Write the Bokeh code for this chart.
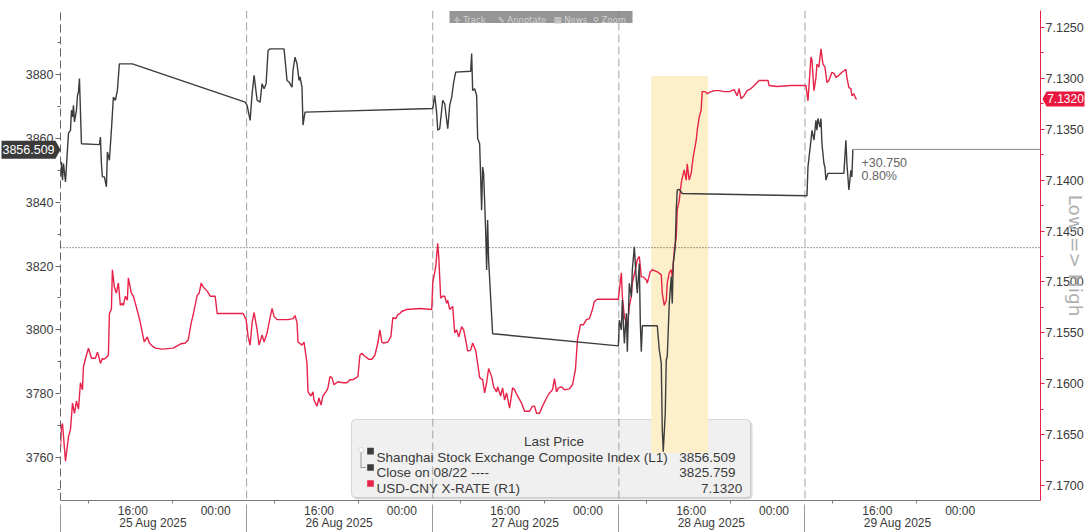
from bokeh.plotting import figure
from bokeh.layouts import column
from bokeh.models import (Range1d, LinearAxis, FixedTicker, CustomJSTickFormatter,
                          PrintfTickFormatter, Span, Label, BoxAnnotation, PolyAnnotation)
from bokeh.embed import file_html
from bokeh.resources import INLINE

# ---------------- data ----------------
# x = trading-session hours since 25 Aug 2025 session open (each day's session = 18.65 h)
SESSION = 18.65
DAY_LABELS = ["25 Aug 2025", "26 Aug 2025", "27 Aug 2025", "28 Aug 2025", "29 Aug 2025"]
TIME_LABEL_OFFSETS = {"16:00": 7.25, "00:00": 15.55}
DATE_LABEL_OFFSET = 9.3
MINOR_OFFSETS = [2.8, 11.2]
X_MAX = 98.2

LEFT_RANGE = (3746.6, 3900.0)
RIGHT_RANGE = (7.17147, 7.12333)          # inverted axis (Low => High)
LEFT_TICKS = [3760, 3780, 3800, 3820, 3840, 3860, 3880]
LEFT_MINOR = [3750, 3770, 3790, 3810, 3830, 3850, 3870, 3890]
RIGHT_TICKS = [7.1250, 7.1300, 7.1350, 7.1400, 7.1450, 7.1500, 7.1550, 7.1600, 7.1650, 7.1700]
RIGHT_MINOR = [7.1275, 7.1325, 7.1375, 7.1425, 7.1475, 7.1525, 7.1575, 7.1625, 7.1675]

SHCOMP_LAST = 3856.509
CLOSE_0822 = 3825.759
USDCNY_LAST = 7.1320
CHANGE_TXT = "+30.750"
CHANGE_PCT = "0.80%"

# Shanghai Stock Exchange Composite Index (left axis)
SHCOMP = [
    (0.0, 3847.9), (0.1, 3852.6), (0.2, 3846.9), (0.3, 3852.1), (0.5, 3846.3), (0.8, 3861.6),
    (1.0, 3862.5), (1.1, 3868.8), (1.2, 3866.7), (1.3, 3870.3), (1.4, 3865.1), (1.6, 3868.8),
    (1.7, 3873.4), (1.8, 3874.5), (1.9, 3878.7), (2.1, 3858.3), (3.9, 3858.0), (4.0, 3860.4),
    (4.1, 3852.1), (4.2, 3847.9), (4.4, 3847.9), (4.6, 3844.8), (4.7, 3855.7), (4.9, 3853.1),
    (5.1, 3862.5), (5.3, 3872.9), (5.5, 3871.9), (5.7, 3875.0), (5.9, 3883.3), (7.2, 3883.3),
    (18.5, 3871.3), (18.7, 3870.3), (19.0, 3865.6), (19.2, 3874.0), (19.4, 3879.7), (19.7, 3871.9),
    (20.0, 3871.3), (20.2, 3877.1), (20.4, 3875.5), (20.6, 3877.1), (20.8, 3887.5), (21.0, 3888.0),
    (22.4, 3888.0), (22.7, 3878.1), (22.9, 3877.6), (23.2, 3876.0), (23.3, 3881.3), (23.5, 3885.4),
    (23.7, 3883.3), (23.9, 3878.1), (24.0, 3879.2), (24.2, 3876.0), (24.3, 3864.1), (24.5, 3868.2),
    (37.3, 3869.3), (37.5, 3873.4), (37.7, 3867.7), (37.8, 3862.5), (38.0, 3863.0), (38.3, 3871.9),
    (38.5, 3870.8), (38.8, 3863.0), (39.0, 3870.3), (39.2, 3872.9), (39.4, 3877.6), (39.6, 3880.7),
    (41.1, 3881.0), (41.2, 3886.5), (41.3, 3875.0), (41.5, 3875.5), (41.7, 3873.4), (41.8, 3859.9),
    (42.0, 3858.3), (42.2, 3837.5), (42.3, 3851.0), (42.4, 3849.0), (42.6, 3831.3), (42.7, 3818.8),
    (42.8, 3834.4), (42.9, 3821.9), (43.3, 3798.8), (44.7, 3798.4),
    (55.9, 3795.0), (56.0, 3803.1), (56.2, 3800.0), (56.3, 3809.4), (56.5, 3795.8), (56.7, 3805.2),
    (56.8, 3793.2), (57.0, 3814.6), (57.2, 3810.4), (57.3, 3818.8), (57.5, 3826.0), (57.7, 3815.6),
    (57.8, 3811.5), (58.0, 3820.8), (58.1, 3802.1), (58.2, 3793.2), (58.3, 3801.3), (59.8, 3801.3),
    (60.0, 3793.8), (60.2, 3789.6), (60.3, 3768.8), (60.4, 3761.9), (60.6, 3774.0), (60.7, 3790.6),
    (60.8, 3791.7), (61.0, 3808.3), (61.2, 3816.7), (61.3, 3808.3), (61.4, 3820.8), (61.6, 3826.0),
    (61.7, 3837.5), (61.8, 3843.8), (62.0, 3844.0), (62.3, 3842.7),
    (74.8, 3842.0), (74.9, 3851.0), (75.2, 3859.4), (75.3, 3862.5), (75.5, 3859.4), (75.7, 3865.6),
    (75.8, 3862.5), (75.9, 3866.2), (76.1, 3863.5), (76.2, 3866.2), (76.3, 3858.3), (76.5, 3852.1),
    (76.6, 3851.0), (76.7, 3846.9), (76.9, 3849.0), (78.5, 3849.0), (78.7, 3859.4), (78.8, 3852.1),
    (79.0, 3843.8), (79.2, 3850.0), (79.3, 3847.9), (79.4, 3856.509),
]

# USD-CNY X-RATE (right axis, inverted)
USDCNY = [
    (0.0, 7.1662), (0.1, 7.1642), (0.2, 7.1639), (0.5, 7.1676), (0.8, 7.1652), (1.0, 7.1645),
    (1.2, 7.1619), (1.4, 7.1629), (1.6, 7.1617), (1.8, 7.1625), (2.0, 7.1599), (2.2, 7.1606),
    (2.3, 7.1583), (2.6, 7.1572), (2.8, 7.1565), (3.1, 7.1575), (3.5, 7.1575), (3.7, 7.1569),
    (3.8, 7.1572), (4.0, 7.1580), (4.2, 7.1575), (4.3, 7.1576), (4.5, 7.1575), (4.8, 7.1572),
    (4.9, 7.1531), (5.1, 7.1527), (5.2, 7.1488), (5.4, 7.1505), (5.6, 7.1511), (5.8, 7.1501),
    (6.0, 7.1523), (6.2, 7.1521), (6.3, 7.1523), (6.5, 7.1514), (6.7, 7.1518), (6.8, 7.1496),
    (7.1, 7.1511), (7.3, 7.1514), (7.5, 7.1521), (7.8, 7.1532), (8.0, 7.1540), (8.2, 7.1550),
    (8.4, 7.1559), (8.7, 7.1554), (8.9, 7.1560), (9.2, 7.1563), (9.5, 7.1565), (10.2, 7.1566),
    (11.3, 7.1565), (12.0, 7.1561), (12.5, 7.1560), (12.8, 7.1557), (13.1, 7.1540), (13.3, 7.1532),
    (13.7, 7.1513), (13.9, 7.1511), (14.1, 7.1501), (14.3, 7.1505), (14.7, 7.1509), (15.0, 7.1514),
    (15.5, 7.1514), (15.7, 7.1531), (18.3, 7.1531), (18.6, 7.1537), (18.8, 7.1554), (19.0, 7.1562),
    (19.2, 7.1540), (19.4, 7.1530), (19.7, 7.1547), (19.9, 7.1562), (20.2, 7.1552), (20.4, 7.1559),
    (20.7, 7.1550), (20.9, 7.1540), (21.2, 7.1526), (21.4, 7.1534), (21.7, 7.1537), (22.8, 7.1537),
    (23.3, 7.1536), (23.5, 7.1533), (23.7, 7.1540), (23.8, 7.1559), (24.2, 7.1562), (24.4, 7.1559),
    (24.7, 7.1580), (24.8, 7.1608), (25.1, 7.1612), (25.3, 7.1608), (25.4, 7.1616), (25.7, 7.1622),
    (25.9, 7.1614), (26.1, 7.1621), (26.3, 7.1612), (26.6, 7.1608), (26.8, 7.1604), (27.0, 7.1593),
    (27.2, 7.1594), (27.4, 7.1601), (27.8, 7.1598), (28.3, 7.1599), (28.7, 7.1599), (29.0, 7.1596),
    (29.3, 7.1596), (29.8, 7.1593), (30.0, 7.1572), (30.2, 7.1570), (30.5, 7.1573), (30.9, 7.1576),
    (31.2, 7.1576), (31.5, 7.1572), (31.8, 7.1560), (32.0, 7.1547), (32.2, 7.1559), (32.4, 7.1560),
    (32.8, 7.1559), (33.1, 7.1554), (33.3, 7.1535), (33.6, 7.1536), (33.8, 7.1532), (34.0, 7.1531),
    (34.2, 7.1529), (34.7, 7.1527), (36.0, 7.1526), (37.2, 7.1527), (37.3, 7.1501), (37.6, 7.1485),
    (37.8, 7.1462), (37.9, 7.1475), (38.1, 7.1516), (38.3, 7.1514), (38.5, 7.1514), (38.7, 7.1521),
    (38.8, 7.1518), (39.0, 7.1527), (39.3, 7.1524), (39.5, 7.1550), (39.7, 7.1547), (39.9, 7.1554),
    (40.2, 7.1544), (40.4, 7.1547), (40.6, 7.1557), (40.8, 7.1568), (41.1, 7.1567), (41.3, 7.1560),
    (41.6, 7.1567), (41.8, 7.1580), (42.0, 7.1594), (42.3, 7.1596), (42.5, 7.1609), (42.7, 7.1599),
    (42.9, 7.1585), (43.2, 7.1593), (43.4, 7.1603), (43.7, 7.1608), (43.8, 7.1603), (44.1, 7.1612),
    (44.3, 7.1604), (44.5, 7.1616), (44.7, 7.1609), (45.0, 7.1624), (45.3, 7.1604), (45.5, 7.1606),
    (45.8, 7.1612), (46.2, 7.1619), (46.5, 7.1627), (47.0, 7.1627), (47.3, 7.1622), (47.5, 7.1622),
    (47.7, 7.1629), (48.0, 7.1629), (48.3, 7.1622), (48.7, 7.1614), (49.0, 7.1609), (49.3, 7.1606),
    (49.5, 7.1595), (49.7, 7.1608), (49.9, 7.1604), (50.2, 7.1603), (50.5, 7.1606), (51.0, 7.1605),
    (51.3, 7.1601), (51.6, 7.1586), (51.8, 7.1557), (52.1, 7.1542), (52.4, 7.1542), (52.7, 7.1537),
    (53.0, 7.1536), (53.3, 7.1527), (53.5, 7.1519), (53.8, 7.1517), (55.9, 7.1517), (56.2, 7.1491),
    (56.3, 7.1514), (56.5, 7.1534), (56.8, 7.1544), (57.0, 7.1524), (57.2, 7.1514), (57.3, 7.1501),
    (57.6, 7.1488), (57.8, 7.1478), (58.0, 7.1475), (58.2, 7.1495), (58.4, 7.1495), (58.7, 7.1498),
    (58.8, 7.1501), (59.1, 7.1490), (59.3, 7.1488), (59.8, 7.1490), (60.2, 7.1493), (60.3, 7.1511),
    (60.5, 7.1523), (60.7, 7.1518), (60.8, 7.1501), (61.0, 7.1491), (61.2, 7.1488), (61.3, 7.1495),
    (61.5, 7.1469), (61.7, 7.1456), (61.8, 7.1429), (62.0, 7.1420), (62.2, 7.1403), (62.3, 7.1398),
    (62.5, 7.1390), (62.7, 7.1400), (62.8, 7.1384), (63.0, 7.1400), (63.2, 7.1393), (63.4, 7.1377),
    (63.7, 7.1361), (63.8, 7.1351), (64.0, 7.1338), (64.2, 7.1331), (64.3, 7.1313), (64.6, 7.1313),
    (64.8, 7.1315), (65.2, 7.1313), (65.5, 7.1312), (66.0, 7.1312), (66.5, 7.1313), (67.0, 7.1313),
    (67.5, 7.1311), (67.8, 7.1317), (68.0, 7.1310), (68.2, 7.1320), (68.5, 7.1317), (68.8, 7.1312),
    (69.2, 7.1310), (69.5, 7.1307), (70.0, 7.1302), (70.5, 7.1302), (70.9, 7.1302), (71.0, 7.1307),
    (71.8, 7.1308), (73.2, 7.1307), (74.7, 7.1307), (74.9, 7.1322), (75.2, 7.1279), (75.3, 7.1282),
    (75.5, 7.1312), (75.7, 7.1299), (75.8, 7.1286), (76.0, 7.1289), (76.2, 7.1271), (76.4, 7.1286),
    (76.6, 7.1289), (76.8, 7.1304), (77.0, 7.1302), (77.3, 7.1294), (77.5, 7.1295), (77.7, 7.1299),
    (78.0, 7.1297), (78.3, 7.1294), (78.7, 7.1291), (78.8, 7.1299), (79.0, 7.1309), (79.2, 7.1310),
    (79.3, 7.1317), (79.5, 7.1315), (79.7, 7.1320), (79.8, 7.1320),
]

# highlighted window (28 Aug) in session hours and left-axis units
BAND_X = (59.2, 64.9)
BAND_Y = (3761.5, 3879.5)

# ---------------- layout / styling ----------------
W, H = 1088, 532
BORDER = dict(left=60, right=46, top=10, bottom=31)
FRAME_TOP = BORDER["top"]
FRAME_BOTTOM = H - BORDER["bottom"]
FRAME_RIGHT = W - BORDER["right"]
FONT = "Liberation Sans"
BLACK = "#3c3c3c"
RED = "#e8234a"
TXT = "#3a3a3a"

sh_t = [a for a, _ in SHCOMP]
sh_v = [b for _, b in SHCOMP]
fx_t = [a for a, _ in USDCNY]
fx_v = [b for _, b in USDCNY]

p = figure(width=W, height=H, output_backend="svg", toolbar_location=None,
           x_range=Range1d(0, X_MAX), y_range=Range1d(*LEFT_RANGE),
           min_border_left=BORDER["left"], min_border_right=BORDER["right"],
           min_border_top=BORDER["top"], min_border_bottom=BORDER["bottom"])
p.extra_y_ranges = {"r": Range1d(start=RIGHT_RANGE[0], end=RIGHT_RANGE[1])}
p.xgrid.visible = False
p.ygrid.visible = False
p.outline_line_color = None
p.background_fill_color = "white"
p.border_fill_color = "white"


def quiet_axis(ax):
    ax.axis_line_color = None
    ax.major_tick_line_color = None
    ax.minor_tick_line_color = None
    ax.major_tick_in = 0
    ax.major_tick_out = 0
    ax.minor_tick_in = 0
    ax.minor_tick_out = 0


# ---- legend box (drawn underneath the series) ----
p.add_layout(BoxAnnotation(left=293, right=692, top=79, bottom=1,
                           left_units="screen", right_units="screen",
                           top_units="screen", bottom_units="screen",
                           fill_color="#b8b8b8", fill_alpha=0.5, line_color=None,
                           border_radius=4, level="underlay"))
p.add_layout(BoxAnnotation(left=291, right=690, top=81, bottom=3,
                           left_units="screen", right_units="screen",
                           top_units="screen", bottom_units="screen",
                           fill_color="#f0f0f0", fill_alpha=1.0, line_color="#8f8f8f",
                           line_width=1, border_radius=4, level="underlay"))

# ---- day separators ----
day_starts = [round(i * SESSION, 3) for i in range(len(DAY_LABELS))]
for ds in day_starts[1:]:
    p.add_layout(Span(location=ds, dimension="height", line_color="#a3a3a3",
                      line_dash="8 4", line_width=1, level="underlay"))

# ---- previous close ----
p.add_layout(Span(location=CLOSE_0822, dimension="width", line_color="#444444",
                  line_dash="1 2", line_width=1))

# ---- highlighted band ----
p.quad(left=BAND_X[0], right=BAND_X[1], bottom=BAND_Y[0], top=BAND_Y[1],
       fill_color="#fdefc9", line_color=None)

# ---- series ----
p.line(fx_t, fx_v, y_range_name="r", line_color=RED, line_width=1.4)
p.line(sh_t, sh_v, line_color=BLACK, line_width=1.4)
p.line([sh_t[-1], X_MAX], [SHCOMP_LAST, SHCOMP_LAST], line_color="#8a8a8a", line_width=1)

# ---- x axes: time labels, date labels, day separators below the frame ----
xt = []
for i in range(len(DAY_LABELS)):
    for off in TIME_LABEL_OFFSETS.values():
        xt.append(round(i * SESSION + off, 3))
xminor = [round(i * SESSION + m, 3) for i in range(len(DAY_LABELS)) for m in MINOR_OFFSETS]
xa = p.xaxis[0]
xa.ticker = FixedTicker(ticks=xt, minor_ticks=xminor)
xa.formatter = CustomJSTickFormatter(args=dict(s=SESSION),
    code="const r = ((tick % s) + s) % s; return r < 11 ? '16:00' : '00:00';")
xa.axis_line_color = "#7a7a7a"
xa.major_tick_line_color = None
xa.minor_tick_line_color = "#7a7a7a"
xa.major_tick_in = 0
xa.major_tick_out = 3
xa.minor_tick_in = 0
xa.minor_tick_out = 3
xa.major_label_standoff = 0
xa.major_label_text_font = FONT
xa.major_label_text_font_size = "12px"
xa.major_label_text_color = TXT

da = LinearAxis(ticker=FixedTicker(ticks=[round(i * SESSION + DATE_LABEL_OFFSET, 3)
                                          for i in range(len(DAY_LABELS))], minor_ticks=[]),
                formatter=CustomJSTickFormatter(args=dict(labels=DAY_LABELS, s=SESSION),
                                                code="return labels[Math.floor(tick / s)];"))
quiet_axis(da)
da.major_label_standoff = -5
da.major_label_text_font = FONT
da.major_label_text_font_size = "12px"
da.major_label_text_color = TXT
p.add_layout(da, "below")

sa = LinearAxis(ticker=FixedTicker(ticks=day_starts, minor_ticks=[]),
                formatter=CustomJSTickFormatter(code="return '';"))
sa.axis_line_color = None
sa.minor_tick_line_color = None
sa.major_tick_line_color = "#9a9a9a"
sa.major_tick_in = 28
sa.major_tick_out = 0
sa.major_label_standoff = 0
sa.major_label_text_font_size = "0px"
p.add_layout(sa, "below")

# ---- left axis ----
ya = p.yaxis[0]
ya.ticker = FixedTicker(ticks=LEFT_TICKS, minor_ticks=LEFT_MINOR)
ya.axis_line_color = "#666666"
ya.axis_line_dash = "8 4"
ya.major_tick_line_color = "#666666"
ya.minor_tick_line_color = "#666666"
ya.major_tick_in = 0
ya.major_tick_out = 5
ya.minor_tick_in = 0
ya.minor_tick_out = 3
ya.major_label_standoff = 2
ya.major_label_text_font = FONT
ya.major_label_text_font_size = "12.5px"
ya.major_label_text_color = TXT

# ---- right axis ----
ra = LinearAxis(y_range_name="r",
                ticker=FixedTicker(ticks=RIGHT_TICKS, minor_ticks=RIGHT_MINOR),
                formatter=PrintfTickFormatter(format="%.4f"))
ra.axis_line_color = RED
ra.major_tick_line_color = RED
ra.minor_tick_line_color = RED
ra.major_tick_in = 0
ra.major_tick_out = 4
ra.minor_tick_in = 0
ra.minor_tick_out = 3
ra.major_label_standoff = 1
ra.major_label_text_font = FONT
ra.major_label_text_font_size = "12.5px"
ra.major_label_text_color = TXT
p.add_layout(ra, "right")

# orientation note for the inverted right axis
rb = LinearAxis(y_range_name="r", ticker=FixedTicker(ticks=[], minor_ticks=[]))
quiet_axis(rb)
rb.axis_label = "Low => High"
rb.axis_label_standoff = -22
rb.axis_label_text_font = "DejaVu Sans"
rb.axis_label_text_font_style = "normal"
rb.axis_label_text_font_size = "18.5px"
rb.axis_label_text_color = "#b0b0b0"
p.add_layout(rb, "right")

# ---- change annotation ----
p.add_layout(Label(x=801, y=338.5, x_units="screen", y_units="screen", text=CHANGE_TXT,
                   text_font=FONT, text_font_size="12.5px", text_color="#666666",
                   text_baseline="alphabetic"))
p.add_layout(Label(x=801, y=325, x_units="screen", y_units="screen", text=CHANGE_PCT,
                   text_font=FONT, text_font_size="12.5px", text_color="#666666",
                   text_baseline="alphabetic"))

# ---- top toolbar strip ----
p.add_layout(BoxAnnotation(left=389, right=572, top=489.5, bottom=477.5,
                           left_units="screen", right_units="screen",
                           top_units="screen", bottom_units="screen",
                           fill_color="#8a8a8a", fill_alpha=0.9, line_color=None))
for txt, x in [("\u271B Track", 393), ("\u270E Annotate", 437), ("\u25A6 News", 493), ("\u26B2 Zoom", 532)]:
    p.add_layout(Label(x=x, y=480.5, x_units="screen", y_units="screen", text=txt,
                       text_font="DejaVu Sans", text_font_size="8.5px", text_color="#d2d2d2",
                       text_baseline="alphabetic"))


# ---- legend content ----
def lab(text, x, y, align="left", color=TXT):
    p.add_layout(Label(x=x, y=y, x_units="screen", y_units="screen", text=text,
                       text_align=align, text_baseline="alphabetic", text_font=FONT,
                       text_font_size="13.5px", text_color=color))


def sq(l, r, t, b, color, alpha=1.0, line=None):
    p.add_layout(BoxAnnotation(left=l, right=r, top=t, bottom=b,
                               left_units="screen", right_units="screen",
                               top_units="screen", bottom_units="screen",
                               fill_color=color, fill_alpha=alpha, line_color=line))


lab("Last Price", 493.5, 59.3, align="center")
lab("Shanghai Stock Exchange Composite Index  (L1)", 316, 43.3)
lab(f"{SHCOMP_LAST:.3f}", 675, 43.3, align="right")
lab("Close on 08/22 ----", 316, 27.7)
lab(f"{CLOSE_0822:.3f}", 675, 27.7, align="right")
lab("USD-CNY X-RATE  (R1)", 316, 12)
lab(f"{USDCNY_LAST:.4f}", 681.7, 12, align="right")
sq(306.7, 313.3, 52.7, 46, BLACK)
sq(306.7, 313.3, 36.3, 29.7, BLACK)
sq(306.7, 313.3, 20.3, 13.7, RED)
sq(298.3, 302.7, 52.7, 48.3, "#ffffff", 1.0, "#9a9a9a")
sq(300.0, 301.0, 48.3, 33.0, "#9a9a9a")
sq(300.0, 305.5, 33.5, 32.5, "#9a9a9a")

# ---------------- last-value badges (transparent overlay in page pixels) ----------------
def py_from(v, rng):
    lo, hi = rng
    return FRAME_BOTTOM - (v - lo) / (hi - lo) * (FRAME_BOTTOM - FRAME_TOP)


q = figure(width=W, height=H, output_backend="svg", toolbar_location=None,
           x_range=Range1d(0, W), y_range=Range1d(H, 0),
           x_axis_location=None, y_axis_location=None, min_border=0)
q.outline_line_color = None
q.background_fill_alpha = 0
q.border_fill_alpha = 0
try:
    q.grid.visible = False
except Exception:
    pass
for fig in (p, q):
    if "frame_align" in fig.properties():
        fig.frame_align = False

yl = py_from(SHCOMP_LAST, LEFT_RANGE)
q.add_layout(PolyAnnotation(xs=[1, 55, BORDER["left"], 55, 1],
                            ys=[yl - 9, yl - 9, yl, yl + 9, yl + 9],
                            fill_color="#3b3b3b", fill_alpha=1, line_color=None))
q.add_layout(Label(x=28, y=yl, text=f"{SHCOMP_LAST:.3f}", text_align="center",
                   text_baseline="middle", text_font=FONT, text_font_size="12.5px",
                   text_color="white"))

yr = py_from(USDCNY_LAST, RIGHT_RANGE)
q.add_layout(PolyAnnotation(xs=[FRAME_RIGHT, FRAME_RIGHT + 4, FRAME_RIGHT + 42,
                                FRAME_RIGHT + 42, FRAME_RIGHT + 4],
                            ys=[yr, yr - 7.5, yr - 7.5, yr + 7.5, yr + 7.5],
                            fill_color="#e8173f", fill_alpha=1, line_color=None))
q.add_layout(Label(x=FRAME_RIGHT + 23, y=yr, text=f"{USDCNY_LAST:.4f}", text_align="center",
                   text_baseline="middle", text_font=FONT, text_font_size="12px",
                   text_color="white"))
q.margin = (-H, 0, 0, 0)

page = column(p, q, spacing=0)
open("out.html", "w").write(file_html(page, INLINE))
